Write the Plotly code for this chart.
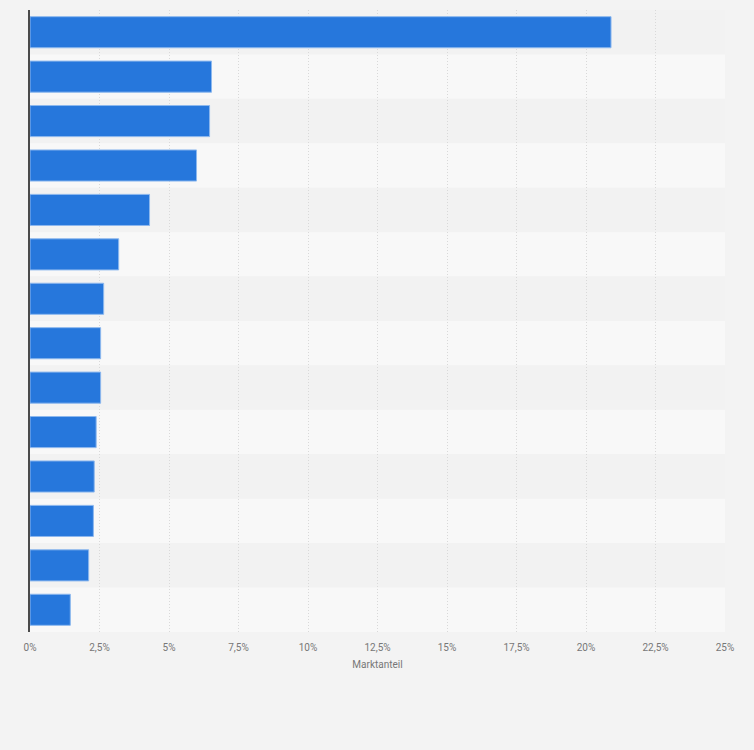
import plotly.graph_objects as go

# market shares, top to bottom (no category labels are shown in the chart)
ranks = [str(i) for i in range(1, 15)]
shares = [20.9, 6.53, 6.46, 5.99, 4.3, 3.19, 2.65, 2.54, 2.54, 2.38, 2.31, 2.28, 2.11, 1.45]

tick_vals = [0, 2.5, 5, 7.5, 10, 12.5, 15, 17.5, 20, 22.5, 25]
tick_text = [f'{v:g}'.replace('.', ',') + '%' for v in tick_vals]

fig = go.Figure()
fig.add_trace(go.Bar(
    x=shares,
    y=ranks,
    orientation='h',
    marker=dict(color='#2677dc', line=dict(color='#8db8ee', width=1)),
    hovertemplate='%{x:.1f}%<extra></extra>',
))

# alternating row bands
for i in range(len(ranks)):
    fig.add_shape(type='rect', xref='paper', yref='y', layer='below',
                  x0=0, x1=1, y0=i - 0.5, y1=i + 0.5,
                  fillcolor='#f2f2f2' if i % 2 == 0 else '#f8f8f8', line_width=0)

fig.update_layout(
    width=754, height=750,
    margin=dict(l=30, r=29, t=10, b=118),
    paper_bgcolor='#f3f3f3',
    plot_bgcolor='#f3f3f3',
    separators=',.',
    bargap=0.3,
    showlegend=False,
    font=dict(family='Roboto, Arial, sans-serif', size=10, color='#777777'),
    xaxis=dict(
        range=[0, 25],
        tickvals=tick_vals,
        ticktext=tick_text,
        showgrid=True, gridcolor='#d9d9d9', griddash='1px,2px', gridwidth=1,
        zeroline=False,
        ticks='outside', ticklen=6, tickcolor='rgba(0,0,0,0)',
        title=dict(text='Marktanteil', font=dict(size=10, color='#777777'), standoff=8),
    ),
    yaxis=dict(
        categoryorder='array', categoryarray=ranks,
        range=[len(ranks) - 0.5, -0.5],
        showticklabels=False,
        showgrid=False, zeroline=False,
        showline=True, linecolor='#4a4a4a', linewidth=1.5,
    ),
)

fig.write_html("out.html", config={'displayModeBar': False},
               post_script="document.body.style.margin='0';")
